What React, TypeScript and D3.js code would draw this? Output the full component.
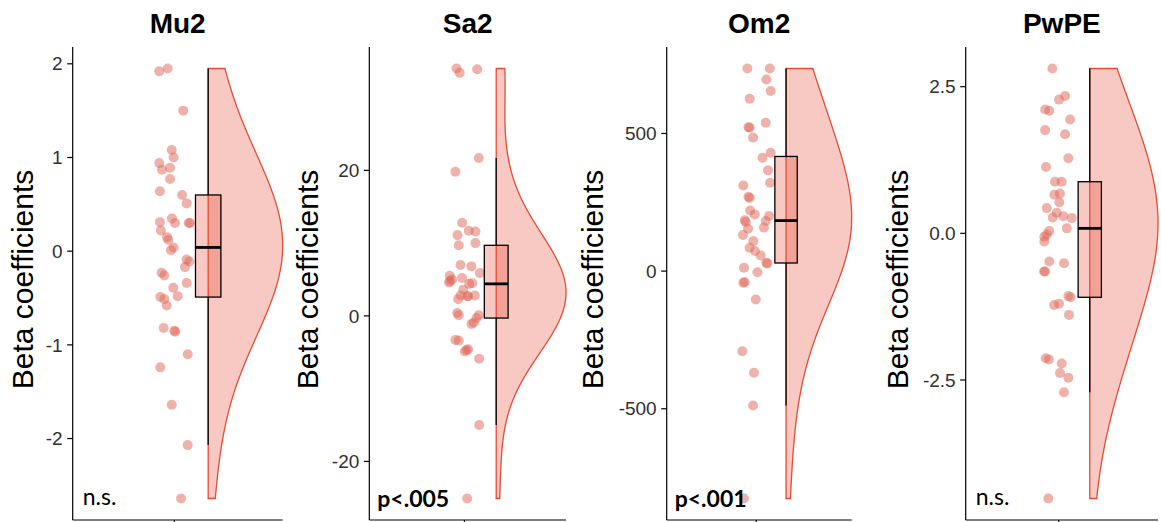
import * as d3 from "d3";

// ---- data ----
const panelTitles = ["Mu2", "Sa2", "Om2", "PwPE"];
const significance = ["n.s.", "p<.005", "p<.001", "n.s."];
const significanceBold = [false, true, true, false];

const mu2Values = [
  1.92, 1.95, 1.5, 1.08, 1.0, 0.94, 0.87, 0.89, 0.77, 0.64, 0.6, 0.51, 0.31, 0.22, 0.35, 0.3, 0.3, 0.3, 0.15,
  0.12, 0.04, 0.01, -0.09, -0.11, -0.17, -0.23, -0.26, -0.39, -0.34, -0.49, -0.51, -0.58, -0.48, -0.82, -0.85,
  -0.86, -1.1, -1.24, -1.64, -2.07, -2.64
];
const mu2Jitter = [
  -0.089, -0.039, 0.053, -0.015, -0.004, -0.089, -0.073, -0.025, -0.025, -0.085, 0.046, 0.073, -0.085, -0.079,
  -0.014, 0.004, 0.085, 0.093, -0.043, -0.035, -0.004, -0.02, 0.073, 0.089, 0.063, -0.075, -0.059, -0.006, 0.073,
  -0.083, -0.059, -0.045, 0.02, -0.063, 0.0, 0.006, 0.079, -0.083, -0.015, 0.079, 0.04
];

const sa2Values = [
  34.0, 33.4, 33.9, 21.7, 19.8, 12.8, 11.7, 11.6, 11.1, 9.7, 10.0, 7.0, 6.8, 5.9, 5.5, 5.0, 4.6, 5.2, 4.5, 4.8,
  4.4, 3.6, 2.8, 2.7, 2.7, 2.8, 2.3, 0.4, 0.1, 0.1, -0.3, -0.9, -1.1, -3.3, -3.4, -4.6, -4.9, -4.7, -5.9, -15.0,
  -25.1
];
const sa2Jitter = [
  -0.05, -0.03, 0.08, 0.09, -0.057, -0.015, 0.027, 0.069, -0.044, -0.036, 0.069, -0.025, 0.044, 0.097, -0.093,
  -0.078, -0.097, -0.015, 0.049, -0.09, 0.03, -0.008, -0.025, 0.017, 0.023, 0.065, -0.04, -0.046, -0.036, 0.09,
  0.076, 0.059, 0.044, -0.057, -0.036, 0.023, 0.002, 0.013, 0.093, 0.093, 0.017
];

const om2Values = [
  736, 736, 696, 654, 626, 523, 521, 539, 485, 412, 430, 366, 321, 311, 270, 266, 220, 206, 200, 182, 158, 185,
  178, 154, 131, 109, 85, 73, 57, 30, 28, 12, -4, -42, -40, -103, -291, -369, -488, -826
];
const om2Jitter = [
  -0.059, 0.091, 0.068, 0.097, -0.044, -0.052, -0.044, 0.064, -0.021, 0.042, 0.097, 0.079, 0.093, -0.086, -0.052,
  -0.044, -0.041, -0.01, 0.086, 0.064, 0.052, -0.077, -0.07, -0.055, -0.089, -0.019, -0.044, -0.008, 0.03, 0.068,
  0.075, -0.082, 0.008, -0.086, -0.077, -0.003, -0.093, -0.015, -0.021, -0.082
];

const pwpeValues = [
  2.81, 2.28, 2.34, 2.11, 2.09, 1.94, 1.76, 1.69, 1.28, 1.13, 0.88, 0.88, 0.66, 0.68, 0.53, 0.43, 0.35, 0.27,
  0.29, 0.26, 0.085, 0.04, -0.02, -0.06, -0.14, -0.48, -0.51, -0.65, -0.65, -1.07, -1.09, -1.22, -1.2, -1.39,
  -2.13, -2.15, -2.22, -2.38, -2.46, -2.71, -4.52
];
const pwpeJitter = [
  -0.041, 0.002, 0.041, -0.088, -0.061, 0.073, -0.088, 0.041, 0.062, -0.082, -0.024, 0.019, -0.028, 0.008, 0.004,
  -0.077, -0.013, -0.039, 0.03, 0.084, 0.052, -0.061, -0.077, -0.093, -0.093, -0.061, 0.034, -0.095, -0.088,
  0.062, 0.077, -0.03, 0.002, 0.066, -0.084, -0.063, 0.019, 0.008, 0.062, 0.034, -0.067
];

const tickValues = [[-2, -1, 0, 1, 2], [-20, 0, 20], [-500, 0, 500], [-2.5, 0, 2.5]];
const tickLabels = [["-2", "-1", "0", "1", "2"], ["-20", "0", "20"], ["-500", "0", "500"], ["-2.5", "0.0", "2.5"]];

const seriesValues = [mu2Values, sa2Values, om2Values, pwpeValues];
const seriesJitter = [mu2Jitter, sa2Jitter, om2Jitter, pwpeJitter];

// ---- layout ----
const width = 1161;
const height = 522;
const plotTop = 47;
const plotBottom = 520;
const panelLeft = [72.7, 369.3, 666.7, 965.7];
const panelRight = [282.7, 566, 851.7, 1158];
const labelX = [33, 318, 603, 908];
const red = "#E64B35";
const font = "'Liberation Sans', Arial, Helvetica, sans-serif";

const violinX = 1.2;
const violinWidth = 0.44;
const boxWidth = 0.15;
const bwAdjust = 2;

function bandwidth(values: number[]) {
  const sorted = [...values].sort(d3.ascending);
  const iqr = (d3.quantileSorted(sorted, 0.75) ?? 0) - (d3.quantileSorted(sorted, 0.25) ?? 0);
  const sd = d3.deviation(values) ?? 1;
  return bwAdjust * 0.9 * Math.min(sd, iqr / 1.34) * Math.pow(values.length, -0.2);
}

function density(values: number[]) {
  const [lo, hi] = d3.extent(values) as [number, number];
  const bw = bandwidth(values);
  const grid = d3.range(512).map((i) => lo + (i * (hi - lo)) / 511);
  const est = grid.map((y) => {
    const d = d3.mean(values, (v) => Math.exp(-0.5 * ((y - v) / bw) ** 2)) ?? 0;
    return { y, d };
  });
  const maxD = d3.max(est, (e) => e.d) ?? 1;
  return est.map((e) => ({ y: e.y, d: e.d / maxD }));
}

function Panel({ index }: { index: number }) {
  const values = seriesValues[index];
  const jitter = seriesJitter[index];
  const [lo, hi] = d3.extent(values) as [number, number];
  const pad = (hi - lo) * 0.05;
  const y = d3.scaleLinear().domain([lo - pad, hi + pad]).range([plotBottom, plotTop]);
  const x = d3.scaleLinear().domain([0.4, 1.64]).range([panelLeft[index], panelRight[index]]);

  const dens = density(values);
  const violin = d3
    .area<{ y: number; d: number }>()
    .x0(() => x(violinX))
    .x1((p) => x(violinX + violinWidth * p.d))
    .y((p) => y(p.y))(dens);

  const sorted = [...values].sort(d3.ascending);
  const q1 = d3.quantileSorted(sorted, 0.25) ?? 0;
  const med = d3.quantileSorted(sorted, 0.5) ?? 0;
  const q3 = d3.quantileSorted(sorted, 0.75) ?? 0;
  const iqr = q3 - q1;
  const whiskerHi = d3.max(sorted.filter((v) => v <= q3 + 1.5 * iqr)) ?? q3;
  const whiskerLo = d3.min(sorted.filter((v) => v >= q1 - 1.5 * iqr)) ?? q1;
  const bx0 = x(violinX - boxWidth / 2);
  const bx1 = x(violinX + boxWidth / 2);
  const bxc = x(violinX);

  const left = panelLeft[index];
  const right = panelRight[index];

  return (
    <g>
      <text
        x={(left + right) / 2}
        y={33}
        textAnchor="middle"
        fontFamily={font}
        fontWeight="bold"
        fontSize={28}
        fill="#000"
      >
        {panelTitles[index]}
      </text>

      <path d={violin ?? ""} fill={red} fillOpacity={0.3} stroke={red} strokeWidth={1.3} />

      {values.map((v, i) => (
        <circle key={i} cx={x(1 + jitter[i])} cy={y(v)} r={5} fill="#DD6655" fillOpacity={0.5} />
      ))}

      <line x1={bxc} x2={bxc} y1={y(q3)} y2={y(whiskerHi)} stroke="#000" strokeWidth={1.3} />
      <line x1={bxc} x2={bxc} y1={y(q1)} y2={y(whiskerLo)} stroke="#000" strokeWidth={1.3} />
      <rect
        x={bx0}
        y={y(q3)}
        width={bx1 - bx0}
        height={y(q1) - y(q3)}
        fill={red}
        fillOpacity={0.3}
        stroke="#000"
        strokeWidth={1.3}
      />
      <line x1={bx0} x2={bx1} y1={y(med)} y2={y(med)} stroke="#000" strokeWidth={2.8} />

      <line x1={left} x2={left} y1={plotTop} y2={plotBottom} stroke="#000" strokeWidth={1.2} />
      <line x1={left} x2={right} y1={plotBottom} y2={plotBottom} stroke="#000" strokeWidth={1.2} />
      <line x1={x(1)} x2={x(1)} y1={plotBottom} y2={plotBottom + 5} stroke="#000" strokeWidth={1.2} />

      {tickValues[index].map((t, i) => (
        <g key={t}>
          <line x1={left - 5.5} x2={left} y1={y(t)} y2={y(t)} stroke="#000" strokeWidth={1.2} />
          <text
            x={left - 10}
            y={y(t)}
            dy="0.35em"
            textAnchor="end"
            fontFamily={font}
            fontSize={19}
            fill="#303030"
          >
            {tickLabels[index][i]}
          </text>
        </g>
      ))}

      <text
        transform={`translate(${labelX[index]},${(plotTop + plotBottom) / 2 - 4}) rotate(-90)`}
        textAnchor="middle"
        fontFamily={font}
        fontSize={30}
        fill="#000"
      >
        Beta coefficients
      </text>

      <text
        x={left + (significanceBold[index] ? 8 : 10)}
        y={significanceBold[index] ? 507 : 505}
        fontFamily="Lato, 'Open Sans', sans-serif"
        fontWeight={significanceBold[index] ? "bold" : "normal"}
        fontSize={23}
        fill="#000"
      >
        {significance[index]}
      </text>
    </g>
  );
}

export default function App() {
  return (
    <svg
      width={width}
      height={height}
      viewBox={`0 0 ${width} ${height}`}
      style={{ position: "absolute", left: 0, top: 0, background: "#fff" }}
    >
      <rect width={width} height={height} fill="#fff" />
      {panelTitles.map((_, i) => (
        <Panel key={i} index={i} />
      ))}
    </svg>
  );
}
